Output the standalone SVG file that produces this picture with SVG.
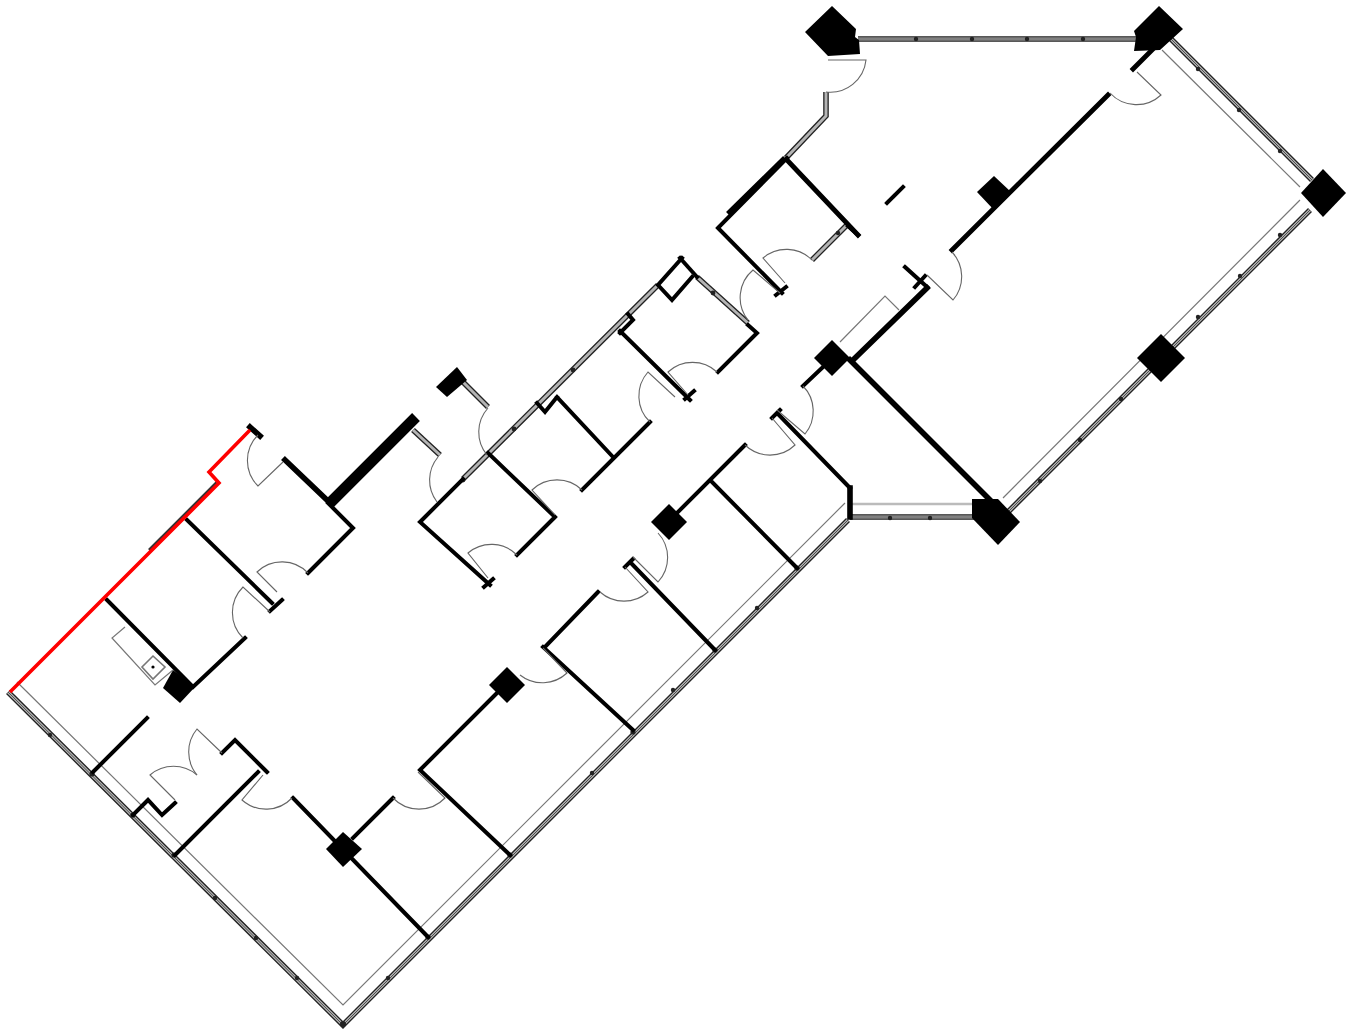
<svg xmlns="http://www.w3.org/2000/svg" width="1353" height="1030" viewBox="0 0 1353 1030">
<style>
.w{fill:none;stroke:#000;stroke-width:4;stroke-linecap:square;stroke-linejoin:miter}
.m4{stroke-width:4.8}
.t{stroke-width:5.6}
.x{stroke-width:11;stroke-linecap:butt}
.d{fill:none;stroke:#666;stroke-width:1.1}
.i{fill:none;stroke:#777;stroke-width:1.2}
.g1{fill:none;stroke:#222;stroke-width:5.6}
.g2{fill:none;stroke:#b4b4b4;stroke-width:3}
.g3{fill:none;stroke:#333;stroke-width:.8}
.c{fill:#000}
.n{fill:#222}
</style>
<defs>
<filter id="b" x="-2%" y="-2%" width="104%" height="104%"><feGaussianBlur stdDeviation="0.6"/></filter>
<path id="gl" d="M8 692L343 1025L848 520M850 517H975M858 39H1145M1008 512L1310 210M1170 38L1312 180"/>
<path id="gw" d="M463 479L658 285M697 277L748 323M463 382L488 407M413 430L440 455M812 260L847 225M786 158L826 116V92"/>
</defs>
<rect width="1353" height="1030" fill="#fff"/>
<g filter="url(#b)">
<g id="glazing">
<use href="#gl" class="g1"/><use href="#gl" class="g2"/><use href="#gl" class="g3"/>
<path class="i" d="M17 682L343 1005L845 503M1003 498L1300 200M1162 50L1300 187"/>
<path fill="none" stroke="#bbb" stroke-width="2.6" d="M850 504H975"/>
<g class="n">
<circle cx="50" cy="735" r="2.2"/><circle cx="92" cy="774" r="2.6"/><circle cx="133" cy="815" r="2.6"/><circle cx="174" cy="855" r="2.6"/><circle cx="215" cy="898" r="2.2"/><circle cx="256" cy="938" r="2.2"/><circle cx="297" cy="978" r="2.2"/><circle cx="343" cy="1024" r="3"/><circle cx="388" cy="978" r="2.2"/><circle cx="428" cy="937" r="2.6"/><circle cx="510" cy="855" r="2.6"/><circle cx="592" cy="773" r="2.2"/><circle cx="633" cy="732" r="2.6"/><circle cx="673" cy="690" r="2.2"/><circle cx="715" cy="650" r="2.6"/><circle cx="757" cy="608" r="2.2"/><circle cx="797" cy="568" r="2.6"/><circle cx="890" cy="518" r="2.2"/><circle cx="930" cy="518" r="2.2"/><circle cx="1040" cy="481" r="2.2"/><circle cx="1080" cy="440" r="2.2"/><circle cx="1121" cy="399" r="2.2"/><circle cx="1198" cy="317" r="2.2"/><circle cx="1240" cy="276" r="2.2"/><circle cx="1280" cy="235" r="2.2"/><circle cx="1198" cy="69" r="2.2"/><circle cx="1239" cy="110" r="2.2"/><circle cx="1280" cy="151" r="2.2"/><circle cx="916" cy="39" r="2.2"/><circle cx="972" cy="39" r="2.2"/><circle cx="1027" cy="39" r="2.2"/><circle cx="1083" cy="39" r="2.2"/>
</g>
</g>
<g id="interior-glazing">
<use href="#gw" class="g1"/><use href="#gw" class="g2"/>
<g class="n"><circle cx="463" cy="480" r="2.4"/><circle cx="514" cy="429" r="2.4"/><circle cx="573" cy="370" r="2.4"/><circle cx="713" cy="293" r="2.4"/><circle cx="838" cy="233" r="2.2"/></g>
</g>
<g id="walls">
<path class="w" d="M107 600L193 687L245 638M187 520L272 603M270 611L282 600M328 503L353 528L308 573M147 718L93 772M133 815L148 800L162 815L175 803M222 753L235 740L267 772M258 772L175 855M293 798L428 937M353 838L393 798M420 770L510 855M420 770L497 693M543 647L633 730M545 647L598 592M625 567L633 559M630 562L715 650M672 518L745 445M712 482L797 568M772 418L780 410M777 413L850 488M803 386L823 367M463 479L420 522L490 585M484 587L493 579M517 555L555 517M488 453L555 517M582 490L650 422M557 397L613 457M537 403L545 412L557 397M620 331L690 400M685 399L694 391M718 372L757 333L748 325M682 258L658 285L672 300L692 277M620 333L633 320L628 314M718 228L787 158M776 295L786 287M718 228L782 293M848 226L858 235M925 276L915 287M905 267L927 287"/>
<path class="w" d="M680 258L697 277"/>
<path class="w m4" d="M787 160L858 235M1133 69L1158 44M1108 95L952 250"/>
<path class="w t" d="M285 460L328 501M730 212L783 160M927 288L853 360M850 360L992 502M850 488V517M250 427L260 436"/>
<path class="w x" d="M330 503L416 417"/>
<path d="M887 203L903 187" class="w"/>
</g>
<g id="columns">
<path class="c" d="M173 670L195 687L180 703L163 688Z"/>
<path class="c" d="M343 832L362 849L343 867L326 849Z"/>
<path class="c" d="M507 667L525 685L507 703L489 685Z"/>
<path class="c" d="M669 504L687 522L669 540L651 522Z"/>
<path class="c" d="M832 340L850 358L832 376L814 358Z"/>
<path class="c" d="M994 176L1011 192L994 210L977 192Z"/>
<path class="c" d="M1161 334L1185 358L1161 382L1137 358Z"/>
<path class="c" d="M1323 169L1346 193L1323 217L1301 193Z"/>
<path class="c" d="M972 499L998 499L1020 522L998 545L972 518Z"/>
<path class="c" d="M832 6L856 29L855 37L859 40L860 54L828 56L805 32Z"/>
<path class="c" d="M1159 6L1183 29L1160 50L1134 51L1136 37L1134 31Z"/>
<path class="c" d="M457 367L467 380L447 397L436 387Z"/>
</g>
<g id="doors">
<path class="d" d="M283 462L258 486A36 36 0 0 1 258 435"/>
<path class="d" d="M277 592L257 572A36 36 0 0 1 308 573"/>
<path class="d" d="M270 612L243 587A36 36 0 0 0 243 638"/>
<path class="d" d="M175 800L150 775A36 36 0 0 1 197 775"/>
<path class="d" d="M222 753L197 729A36 36 0 0 0 197 775"/>
<path class="d" d="M263 775L242 800A36 36 0 0 0 292 798"/>
<path class="d" d="M393 798A36 36 0 0 0 445 798L418 772"/>
<path class="d" d="M520 675A36 36 0 0 0 567 673L543 648"/>
<path class="d" d="M600 592A36 36 0 0 0 648 592L625 567"/>
<path class="d" d="M633 557L658 582A36 36 0 0 0 658 533"/>
<path class="d" d="M745 445A36 36 0 0 0 795 445L772 418"/>
<path class="d" d="M777 410L805 434A36 36 0 0 0 803 386"/>
<path class="d" d="M438 457A36 36 0 0 0 437 502"/>
<path class="d" d="M488 408A36 36 0 0 0 487 455"/>
<path class="d" d="M488 578L468 553A36 36 0 0 1 517 555"/>
<path class="d" d="M555 515L532 490A36 36 0 0 1 582 490"/>
<path class="d" d="M688 395L668 372A36 36 0 0 1 717 372"/>
<path class="d" d="M675 397L648 372A36 36 0 0 0 650 422"/>
<path class="d" d="M785 283L763 258A36 36 0 0 1 812 260"/>
<path class="d" d="M780 293L753 270A36 36 0 0 0 748 320"/>
<path class="d" d="M826 92A36 36 0 0 0 866 60H828"/>
<path class="d" d="M1137 72L1161 95A36 36 0 0 1 1110 93"/>
<path class="d" d="M952 252A36 36 0 0 1 953 300L927 275"/>
</g>
<g id="fixtures">
<path class="i" d="M840 342L885 296L899 310"/>
<path class="i" d="M125 627L112 638L155 685L173 670"/>
<path fill="#fff" stroke="#777" stroke-width="1.6" d="M153 656L165 667L153 679L142 667Z"/>
<circle cx="153" cy="667" r="1.6"/>
</g>
<path d="M149 550L217 482" stroke="#333" stroke-width="2.6" fill="none"/>
<path id="red" d="M10 692L219 483L209 472L250 430" fill="none" stroke="#f00" stroke-width="3.6"/>
</g>
</svg>
